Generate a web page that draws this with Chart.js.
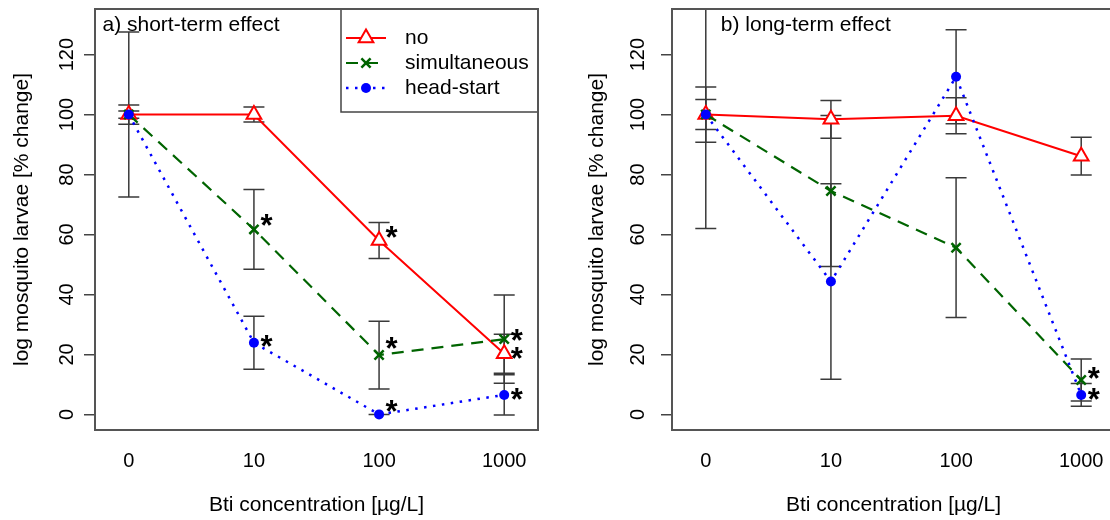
<!DOCTYPE html>
<html>
<head>
<meta charset="utf-8">
<script src="https://cdn.jsdelivr.net/npm/chart.js@4"></script>
<style>
html, body { margin: 0; padding: 0; background: #fff; }
#wrap { position: relative; width: 1110px; height: 520px; overflow: hidden; }
#boxA { position: absolute; left: 0; top: 0; width: 555px; height: 520px; }
#boxB { position: absolute; left: 555px; top: 0; width: 565px; height: 520px; }
</style>
</head>
<body>
<div id="wrap">
  <div id="boxA"><canvas id="shortChart" width="555" height="520"></canvas></div>
  <div id="boxB"><canvas id="longChart" width="565" height="520"></canvas></div>
</div>
<script>
// Bti concentration, one category per position 1..4
const concLabels = ['0', '10', '100', '1000'];
const yTicks = [0, 20, 40, 60, 80, 100, 120];
const seriesNames = ['no', 'simultaneous', 'head-start'];

// a) short-term effect (mean and +/- error)
const shortNo = [100, 100, 58, 20.2];
const shortNoErr = [1.2, 2.5, 6, 6.5];
const shortSim = [100, 61.7, 19.8, 25.1];
const shortSimErr = [3.2, 13.3, 11.3, 14.7];
const shortHead = [100, 23.9, 0, 6.5];
const shortHeadErr = [27.5, 8.8, 0, 6.7];
// significance stars [category, value]
const shortStars = [[2.1, 65.4], [2.1, 25.1], [3.1, 61.4], [3.1, 24.4], [3.1, 3.4], [4.1, 27.2], [4.1, 21.0], [4.1, 7.3]];

// b) long-term effect
const longNo = [100, 98.4, 99.6, 86.1];
const longNoErr = [5, 6.3, 6, 6.3];
const longSim = [100, 74.5, 55.6, 11.5];
const longSimErr = [9.2, 25.2, 23.3, 7];
const longHead = [100, 44.3, 112.6, 6.5];
const longHeadErr = [38, 32.6, 15.7, 3.8];
const longStars = [[4.1, 14.3], [4.1, 7.3]];

Chart.defaults.font.family = "'Liberation Sans', Arial, sans-serif";
Chart.defaults.color = '#000';

function toPoints(vals) {
    return vals.map((v, i) => ({x: i + 1, y: v}));
}

function makeDatasets(no, noErr, sim, simErr, head, headErr) {
    return [{
        label: seriesNames[0],
        data: toPoints(no),
        errors: noErr,
        borderColor: '#ff0000',
        borderWidth: 2,
        pointStyle: 'triangle',
        pointRadius: 8.5,
        pointBorderWidth: 2,
        pointBorderColor: '#ff0000',
        pointBackgroundColor: '#ffffff',
        order: 3
    }, {
        label: seriesNames[1],
        data: toPoints(sim),
        errors: simErr,
        borderColor: '#006400',
        borderWidth: 2.2,
        borderDash: [12, 8],
        pointStyle: 'crossRot',
        pointRadius: 6.5,
        pointBorderWidth: 2.5,
        pointBorderColor: '#006400',
        pointBackgroundColor: '#006400',
        order: 2
    }, {
        label: seriesNames[2],
        data: toPoints(head),
        errors: headErr,
        borderColor: '#0000ff',
        borderWidth: 2.5,
        borderDash: [2.5, 6.5],
        pointStyle: 'circle',
        pointRadius: 5,
        pointBorderWidth: 0,
        pointBackgroundColor: '#0000ff',
        order: 1
    }];
}

// error bars, drawn under the lines and markers
const errorBars = {
    id: 'errorBars',
    beforeDatasetsDraw(chart) {
        const {ctx, chartArea: a, scales: {x, y}} = chart;
        ctx.save();
        ctx.beginPath();
        ctx.rect(a.left, a.top, a.right - a.left, a.bottom - a.top);
        ctx.clip();
        ctx.strokeStyle = '#3a3a3a';
        ctx.lineWidth = 1.5;
        chart.data.datasets.forEach(ds => {
            ds.data.forEach((p, i) => {
                const e = ds.errors[i];
                const px = x.getPixelForValue(p.x);
                const t = y.getPixelForValue(p.y + e);
                const b = y.getPixelForValue(p.y - e);
                ctx.beginPath();
                ctx.moveTo(px, t); ctx.lineTo(px, b);
                ctx.moveTo(px - 10.5, t); ctx.lineTo(px + 10.5, t);
                ctx.moveTo(px - 10.5, b); ctx.lineTo(px + 10.5, b);
                ctx.stroke();
            });
        });
        ctx.restore();
    }
};

// stars, panel label, box and legend
const extras = {
    id: 'extras',
    afterDatasetsDraw(chart, args, opts) {
        const {ctx, chartArea: a, scales: {x, y}} = chart;
        ctx.save();
        ctx.fillStyle = '#000';
        ctx.font = "bold 31px 'Liberation Sans', Arial, sans-serif";
        ctx.textAlign = 'center';
        ctx.textBaseline = 'alphabetic';
        opts.stars.forEach(s => {
            ctx.fillText('*', x.getPixelForValue(s[0]), y.getPixelForValue(s[1]) + 0.573 * 31);
        });

        ctx.font = "21px 'Liberation Sans', Arial, sans-serif";
        ctx.textAlign = 'left';
        ctx.textBaseline = 'middle';
        ctx.fillText(opts.title, x.getPixelForValue(opts.titleAt[0]), y.getPixelForValue(opts.titleAt[1]));

        if (opts.legend) {
            const lx = a.right - 197, ly = a.top;
            ctx.fillStyle = '#fff';
            ctx.fillRect(lx, ly, a.right - lx, 103);
            ctx.strokeStyle = '#444';
            ctx.lineWidth = 1.5;
            ctx.strokeRect(lx, ly, a.right - lx, 103);
            chart.data.datasets.forEach((ds, i) => {
                const ry = ly + 29 + i * 25;
                ctx.strokeStyle = ds.borderColor;
                ctx.lineWidth = ds.borderWidth;
                ctx.setLineDash(ds.borderDash || []);
                ctx.beginPath();
                ctx.moveTo(lx + 5, ry);
                ctx.lineTo(lx + 45, ry);
                ctx.stroke();
                ctx.setLineDash([]);
                ctx.strokeStyle = ds.pointBorderColor || ds.borderColor;
                ctx.fillStyle = ds.pointBackgroundColor;
                ctx.lineWidth = ds.pointBorderWidth;
                Chart.helpers.drawPoint(ctx, {pointStyle: ds.pointStyle, radius: ds.pointRadius, borderWidth: ds.pointBorderWidth, rotation: 0}, lx + 25, ry);
                ctx.fillStyle = '#000';
                ctx.fillText(ds.label, lx + 64, ry);
            });
        }
        ctx.restore();
    },
    afterDraw(chart) {
        const {ctx, chartArea: a} = chart;
        ctx.save();
        ctx.strokeStyle = '#555';
        ctx.lineWidth = 2;
        ctx.strokeRect(a.left, a.top, a.right - a.left, a.bottom - a.top);
        ctx.restore();
    }
};

function noPad(s) {
    s.paddingTop = 0;
    s.paddingBottom = 0;
    s.paddingLeft = 0;
    s.paddingRight = 0;
}

function makeScales(yWidth, yTitlePad, yTickPad) {
    return {
        x: {
            type: 'linear',
            min: 0.73,
            max: 4.27,
            afterBuildTicks: s => { s.ticks = concLabels.map((l, i) => ({value: i + 1})); },
            afterFit: s => { s.height = 90; noPad(s); },
            grid: {display: false, drawTicks: false},
            border: {display: false},
            ticks: {
                callback: v => concLabels[Math.round(v) - 1],
                font: {size: 20},
                padding: 19,
                maxRotation: 0,
                autoSkip: false
            },
            title: {display: true, text: 'Bti concentration [µg/L]', font: {size: 21}, padding: {top: 0, bottom: 2.4}}
        },
        y: {
            min: -5.2,
            max: 135.2,
            afterBuildTicks: s => { s.ticks = yTicks.map(v => ({value: v})); },
            afterFit: s => { s.width = yWidth; noPad(s); },
            grid: {drawOnChartArea: false, drawTicks: true, tickLength: 11, color: '#444', lineWidth: 1.5},
            border: {display: false},
            ticks: {minRotation: 90, maxRotation: 90, crossAlign: 'center', padding: yTickPad, font: {size: 20}},
            title: {display: true, text: 'log mosquito larvae [% change]', font: {size: 21}, padding: {top: yTitlePad, bottom: 0}}
        }
    };
}

function makeChart(id, datasets, scales, padding, extraOpts) {
    const ctx = document.getElementById(id).getContext('2d');
    return new Chart(ctx, {
        type: 'line',
        data: {datasets: datasets},
        options: {
            responsive: false,
            animation: false,
            layout: {padding: padding, autoPadding: false},
            scales: scales,
            plugins: {
                legend: {display: false},
                tooltip: {enabled: false},
                extras: extraOpts
            }
        },
        plugins: [errorBars, extras]
    });
}

makeChart('shortChart',
    makeDatasets(shortNo, shortNoErr, shortSim, shortSimErr, shortHead, shortHeadErr),
    makeScales(95, 9.4, 0),
    {top: 9, right: 17, bottom: 0, left: 0},
    {stars: shortStars, title: 'a) short-term effect', titleAt: [0.79, 129.8], legend: true});

makeChart('longChart',
    makeDatasets(longNo, longNoErr, longSim, longSimErr, longHead, longHeadErr),
    makeScales(117, 29.4, 6.3),
    {top: 9, right: 5, bottom: 0, left: 0},
    {stars: longStars, title: 'b) long-term effect', titleAt: [1.12, 129.8], legend: false});
</script>
</body>
</html>
